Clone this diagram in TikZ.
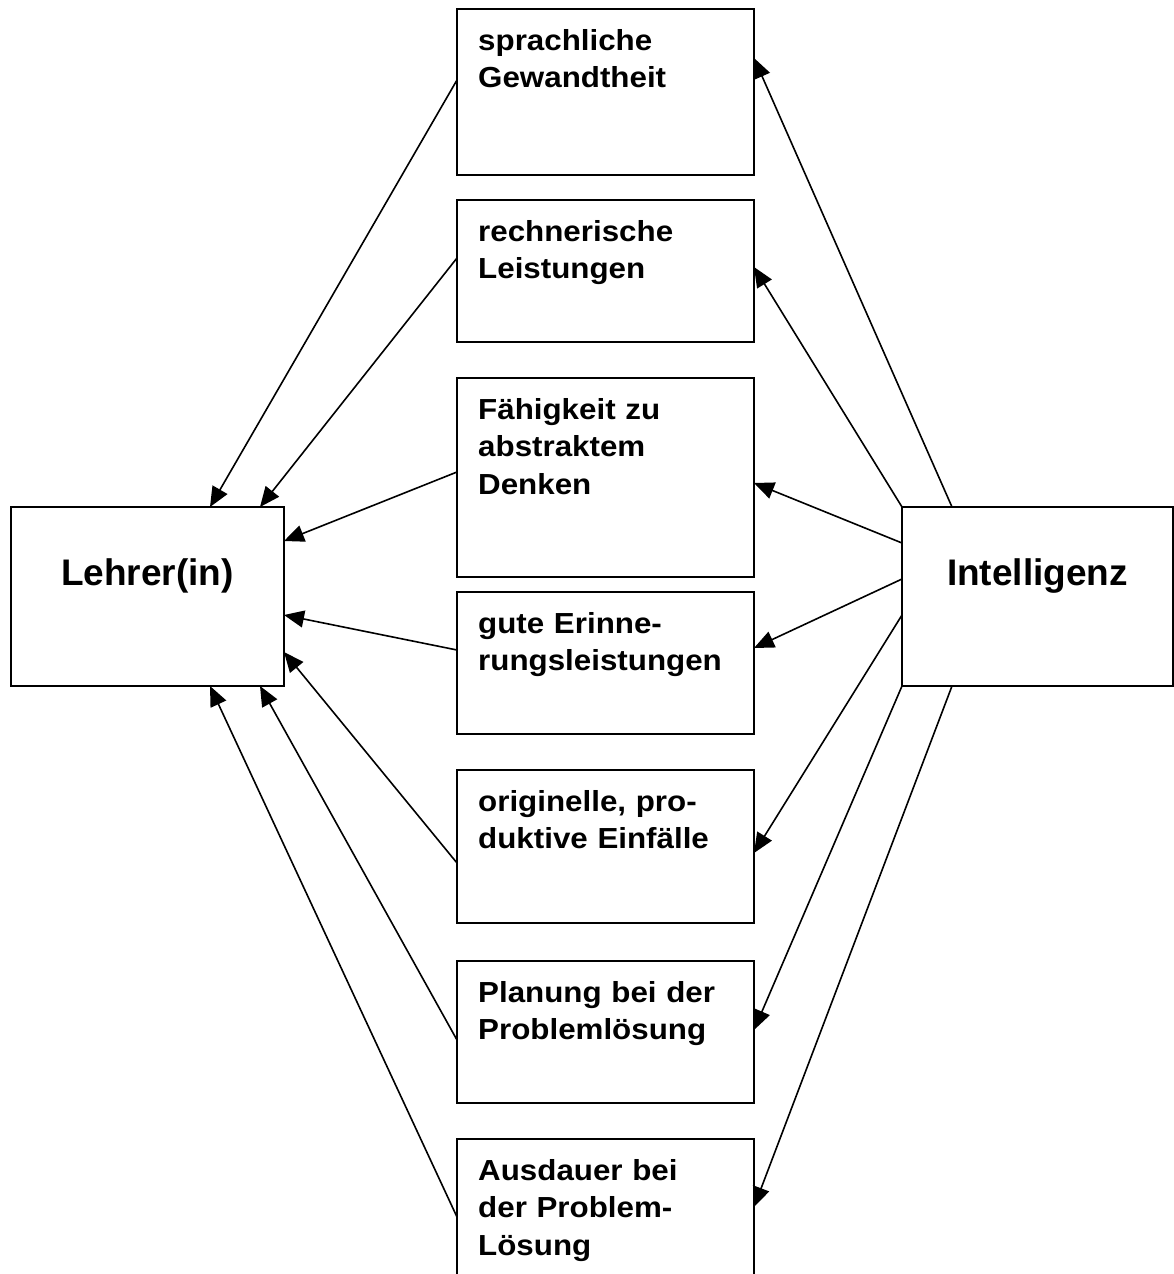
\documentclass[tikz,border=0pt]{standalone}
\usepackage{fontspec}
\setmainfont{Liberation Sans}
\newfontfamily\boxfont{Liberation Sans}[FakeStretch=1.08]
\usetikzlibrary{arrows.meta}

\tikzset{
  midbox/.style={draw, line width=2pt, anchor=north west, minimum width=297pt, inner sep=0pt, outer sep=0pt},
  bigbox/.style={draw, line width=2pt, anchor=north west, minimum height=179pt, inner sep=0pt, outer sep=0pt,
    font=\bfseries\fontsize{37}{44}\selectfont, text height=27pt, text depth=50pt},
  boxtext/.style={anchor=base west, align=left, text width=270pt, inner sep=0pt,
    font=\boxfont\bfseries\fontsize{29}{37.5}\selectfont},
  arr/.style={-{Triangle[length=20pt,width=17pt]}, line width=1.6pt}
}

\begin{document}
\begin{tikzpicture}[x=1pt,y=-1pt]
    \useasboundingbox (0,0) rectangle (1174,1274);

    % middle column
    \foreach \bx/\yy/\hh/\txt in {b1/9/166/{sprachliche\\Gewandtheit},
                                  b2/200/142/{rechnerische\\Leistungen},
                                  b3/378/199/{Fähigkeit zu\\abstraktem\\Denken},
                                  b4/592/142/{gute Erinne-\\rungsleistungen},
                                  b5/770/153/{originelle, pro-\\duktive Einfälle},
                                  b6/961/142/{Planung bei der\\Problemlösung},
                                  b7/1139/160/{Ausdauer bei\\der Problem-\\Lösung}} {
        \node[midbox, minimum height=\hh pt] (\bx) at (457,\yy) {};
        \node[boxtext] (t\bx) at ([shift={(21pt,-41pt)}]\bx.north west) {\txt};
    }

    \node[bigbox, minimum width=273pt] (lehrer) at (11,507) {Lehrer(in)};
    \node[bigbox, minimum width=271pt] (intel) at (902,507) {Intelligenz};

    % into Lehrer(in)
    \draw[arr] ([yshift=-71pt]b1.north west) -- ([xshift=199pt]lehrer.north west);
    \draw[arr] ([yshift=-58pt]b2.north west) -- ([xshift=249pt]lehrer.north west);
    \draw[arr] ([yshift=-94pt]b3.north west) -- ([yshift=-34pt]lehrer.north east);
    \draw[arr] ([yshift=-58pt]b4.north west) -- ([yshift=-108pt]lehrer.north east);
    \draw[arr] ([yshift=-93pt]b5.north west) -- ([yshift=-145pt]lehrer.north east);
    \draw[arr] ([yshift=-79pt]b6.north west) -- ([xshift=249pt]lehrer.south west);
    \draw[arr] ([yshift=-78pt]b7.north west) -- ([xshift=199pt]lehrer.south west);

    % out of Intelligenz
    \draw[arr] ([xshift=50pt]intel.north west) -- ([yshift=-49pt]b1.north east);
    \draw[arr] (intel.north west) -- ([yshift=-67pt]b2.north east);
    \draw[arr] ([yshift=-36pt]intel.north west) -- ([yshift=-105pt]b3.north east);
    \draw[arr] ([yshift=-72pt]intel.north west) -- ([yshift=-56pt]b4.north east);
    \draw[arr] ([yshift=-108pt]intel.north west) -- ([yshift=-83pt]b5.north east);
    \draw[arr] (intel.south west) -- ([yshift=-69pt]b6.north east);
    \draw[arr] ([xshift=50pt]intel.south west) -- ([yshift=-68pt]b7.north east);
\end{tikzpicture}
\end{document}
